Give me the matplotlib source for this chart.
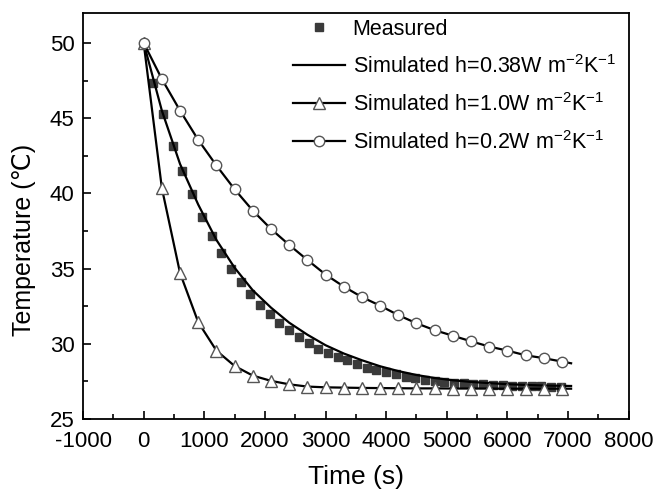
import matplotlib
matplotlib.use('Agg')
import matplotlib.pyplot as plt
import numpy as np
from matplotlib.ticker import MultipleLocator

plt.rcParams['font.family'] = ['Liberation Sans', 'DejaVu Sans']
plt.rcParams['mathtext.fontset'] = 'custom'
plt.rcParams['mathtext.rm'] = 'Liberation Sans'
plt.rcParams['mathtext.it'] = 'Liberation Sans'
plt.rcParams['axes.unicode_minus'] = False

# measured points (every 160 s)
t_meas = [160, 320, 480, 640, 800, 960, 1120, 1280, 1440, 1600, 1760, 1920,
          2080, 2240, 2400, 2560, 2720, 2880, 3040, 3200, 3360, 3520, 3680,
          3840, 4000, 4160, 4320, 4480, 4640, 4800, 4960, 5120, 5280, 5440,
          5600, 5760, 5920, 6080, 6240, 6400, 6560, 6720, 6880]
T_meas = [47.36, 45.28, 43.17, 41.51, 39.94, 38.41, 37.19, 36.02, 34.95, 34.13,
          33.29, 32.58, 31.98, 31.40, 30.92, 30.43, 30.03, 29.65, 29.37, 29.10,
          28.89, 28.66, 28.41, 28.26, 28.10, 27.97, 27.81, 27.70, 27.59, 27.53,
          27.46, 27.41, 27.37, 27.33, 27.29, 27.26, 27.24, 27.21, 27.19, 27.17,
          27.16, 27.15, 27.13]

# simulated curves (every 300 s, line ends at 7050 s)
t_sim = [0, 300, 600, 900, 1200, 1500, 1800, 2100, 2400, 2700, 3000, 3300,
         3600, 3900, 4200, 4500, 4800, 5100, 5400, 5700, 6000, 6300, 6600, 6900]
t_end = 7050

T_038 = [50.0, 45.5, 41.95, 39.25, 36.9, 35.05, 33.55, 32.4, 31.4, 30.6, 29.9,
         29.35, 28.9, 28.5, 28.18, 27.92, 27.72, 27.57, 27.46, 27.38, 27.31,
         27.26, 27.22, 27.2]
T_038_end = 27.19

T_10 = [50.0, 40.35, 34.7, 31.43, 29.54, 28.52, 27.88, 27.53, 27.3, 27.15,
        27.1, 27.08, 27.06, 27.05, 27.04, 27.03, 27.03, 27.02, 27.02, 27.02,
        27.01, 27.01, 27.01, 27.01]
T_10_end = 27.01

T_02 = [50.0, 47.6, 45.5, 43.55, 41.85, 40.27, 38.85, 37.63, 36.57, 35.57,
        34.6, 33.8, 33.1, 32.53, 31.9, 31.36, 30.9, 30.53, 30.16, 29.81,
        29.54, 29.23, 29.04, 28.81]
T_02_end = 28.7

fig = plt.figure(figsize=(6.59, 4.94), dpi=100)
ax = fig.add_axes([0.126, 0.152, 0.828, 0.822])

ax.plot(t_meas, T_meas, 's', color='#3a3a3a', markersize=6, label='Measured')
ax.plot(t_sim + [t_end], T_038 + [T_038_end], '-', color='black', lw=1.6,
        label=r'Simulated h=0.38W m$^{-2}$K$^{-1}$')
ax.plot(t_sim + [t_end], T_10 + [T_10_end], '-', color='black', lw=1.6,
        marker='^', markevery=list(range(len(t_sim))), markersize=9,
        markerfacecolor='white', markeredgecolor='#555555', markeredgewidth=1.0,
        label=r'Simulated h=1.0W m$^{-2}$K$^{-1}$')
ax.plot(t_sim + [t_end], T_02 + [T_02_end], '-', color='black', lw=1.6,
        marker='o', markevery=list(range(len(t_sim))), markersize=7.5,
        markerfacecolor='white', markeredgecolor='#555555', markeredgewidth=1.0,
        label=r'Simulated h=0.2W m$^{-2}$K$^{-1}$')

ax.set_xlim(-1000, 8000)
ax.set_ylim(25, 52)
ax.xaxis.set_major_locator(MultipleLocator(1000))
ax.xaxis.set_minor_locator(MultipleLocator(500))
ax.yaxis.set_major_locator(MultipleLocator(5))
ax.yaxis.set_minor_locator(MultipleLocator(2.5))
ax.tick_params(which='both', direction='in', top=False, right=False,
               labelsize=16, width=1.2)
ax.tick_params(which='major', length=6, pad=6)
ax.tick_params(which='minor', length=3.5)
ax.tick_params(axis='x', which='major', pad=9)
for s in ax.spines.values():
    s.set_linewidth(1.3)

ax.set_xlabel('Time (s)', fontsize=19, labelpad=9)
ax.set_ylabel('Temperature (℃)', fontsize=18)
ax.yaxis.set_label_coords(-0.086, 0.44)

ax.legend(loc='upper left', bbox_to_anchor=(0.385, 0.985), frameon=False,
          fontsize=15.5, handlelength=2.4, handletextpad=0.37, borderpad=0,
          borderaxespad=0, labelspacing=0.7)

fig.savefig('out.png', dpi=100)
